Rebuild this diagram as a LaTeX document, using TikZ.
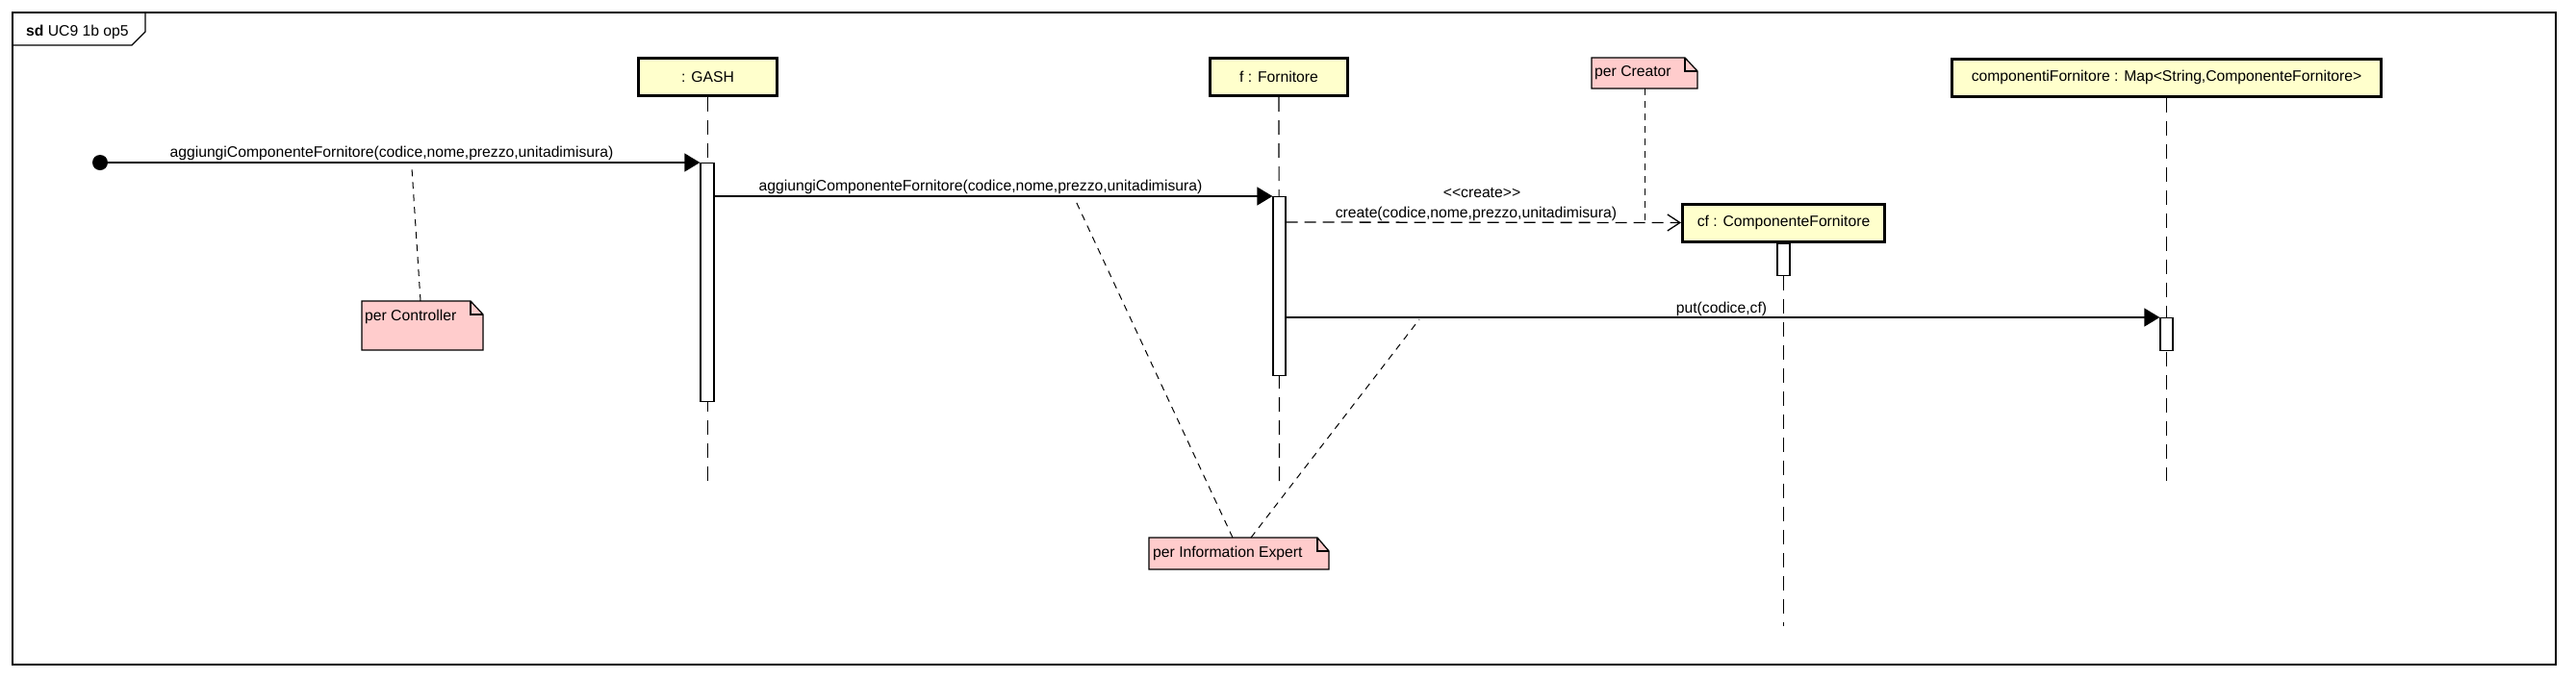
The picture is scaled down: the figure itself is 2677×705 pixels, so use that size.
\documentclass[tikz,border=0pt]{standalone}
\usepackage{fontspec}
\setmainfont{Liberation Sans}
\usetikzlibrary{arrows.meta}
\definecolor{headfill}{RGB}{255,255,204}
\definecolor{notefill}{RGB}{255,204,204}

\begin{document}
\begin{tikzpicture}[x=1pt,y=-1pt,font=\fontsize{15.7}{18}\selectfont,
	lhead/.style={draw,line width=3pt,fill=headfill,inner sep=0pt,minimum height=39pt},
	lline/.style={line width=1.2pt,dash pattern=on 15pt off 9pt},
	actbar/.style={draw,fill=white,line width=1.3pt,inner sep=0pt,anchor=north},
	msg/.style={line width=1.3pt,-{Triangle[length=16pt,width=19pt]}},
	crmsg/.style={line width=1.3pt,dash pattern=on 12pt off 7pt,-{Straight Barb[length=13pt,width=17pt,line width=1.3pt]}},
	nline/.style={line width=1pt,dash pattern=on 7pt off 6pt},
	notebg/.style={draw,fill=notefill,line width=1.3pt,line join=miter},
	lbl/.style={anchor=base,inner sep=0pt},
	nlbl/.style={anchor=base west,inner sep=0pt}]
			\useasboundingbox (0,0) rectangle (2677,705);
			% frame
			\draw[line width=1.3pt] (13,13) rectangle (2656,691);
			\draw[line width=1.3pt] (13,47) -- (137,47) -- (151,33) -- (151,13);
			\node[nlbl] (sdlbl) at (27,37) {\textbf{sd} UC9 1b op5};
			% lifelines
			\node[lhead,minimum width=144pt] (gash) at (735.5,80) {: GASH};
			\node[lhead,minimum width=143pt] (forn) at (1329,80) {f : Fornitore};
			\node[lhead,minimum width=446pt] (cmap) at (2251.5,80.5) {componentiFornitore : Map<String,ComponenteFornitore>};
			\coordinate (gashend) at (735.5,500);
			\coordinate (fornend) at (1329.5,500);
			\coordinate (cmapend) at (2251.5,500);
			\coordinate (cfend) at (1853.5,651);
			\draw[lline] (gash.south) -- (gashend);
			\draw[lline] (forn.south) -- (fornend);
			\draw[lline] (cmap.south) -- (cmapend);
			\node[actbar,minimum width=14pt,minimum height=248pt] (gashact) at (735,169) {};
			\node[actbar,minimum width=13pt,minimum height=186pt] (fornact) at (1329.5,204) {};
			\node[actbar,minimum width=13pt,minimum height=34pt] (cmapact) at (2251.5,330) {};
			% messages
			\node[circle,fill=black,inner sep=0pt,minimum size=16pt] (start) at (104,169) {};
			\draw[msg] (start.center) -- (gashact.north west);
			\node[lbl] (m1lbl) at (407,163) {aggiungiComponenteFornitore(codice,nome,prezzo,unitadimisura)};
			\draw[msg] ([yshift=-35pt]gashact.north east) -- (fornact.north west);
			\node[lbl] (m2lbl) at (1019,198) {aggiungiComponenteFornitore(codice,nome,prezzo,unitadimisura)};
			\node[lhead,minimum width=210pt] (cf) at (1853.5,231.5) {cf : ComponenteFornitore};
			\draw[crmsg] ([yshift=-27pt]fornact.north east) -- (cf.west);
			\node[lbl] (crst) at (1540,205) {<\kern0pt<create>\kern0pt>};
			\node[lbl] (crlbl) at (1534,226) {create(codice,nome,prezzo,unitadimisura)};
			\node[actbar,minimum width=13pt,minimum height=33pt] (cfact) at (cf.south) {};
			\draw[lline] (cfact.south) -- (cfend);
			\draw[msg] ([yshift=-126pt]fornact.north east) -- (cmapact.north west);
			\node[lbl] (putlbl) at (1789,325) {put(codice,cf)};
			% notes
			\draw[notebg] (376,313) -- (489,313) -- (502,327) -- (502,364) -- (376,364) -- cycle;
			\draw[line width=1.3pt] (489,313) -- (489,327) -- (502,327);
			\node[nlbl] (nctrl) at (379,333) {per Controller};
			\draw[notebg] (1654,60) -- (1751,60) -- (1764,74) -- (1764,92) -- (1654,92) -- cycle;
			\draw[line width=1.3pt] (1751,60) -- (1751,74) -- (1764,74);
			\node[nlbl] (ncreat) at (1657,79) {per Creator};
			\draw[notebg] (1194,559) -- (1369,559) -- (1381,573) -- (1381,592) -- (1194,592) -- cycle;
			\draw[line width=1.3pt] (1369,559) -- (1369,573) -- (1381,573);
			\node[nlbl] (nexp) at (1198,579) {per Information Expert};
			% note links
			\coordinate (ctrlpin) at (437,313);
			\coordinate (ctrlmsg) at (428,175);
			\coordinate (creatpin) at (1709,92);
			\coordinate (creatmsg) at (1709,231);
			\coordinate (exppin1) at (1281,559);
			\coordinate (expmsg1) at (1117,207);
			\coordinate (exppin2) at (1300,559);
			\coordinate (expmsg2) at (1475,332);
			\draw[nline] (ctrlpin) -- (ctrlmsg);
			\draw[nline] (creatpin) -- (creatmsg);
			\draw[nline] (exppin1) -- (expmsg1);
			\draw[nline] (exppin2) -- (expmsg2);
		\end{tikzpicture}
\end{document}
